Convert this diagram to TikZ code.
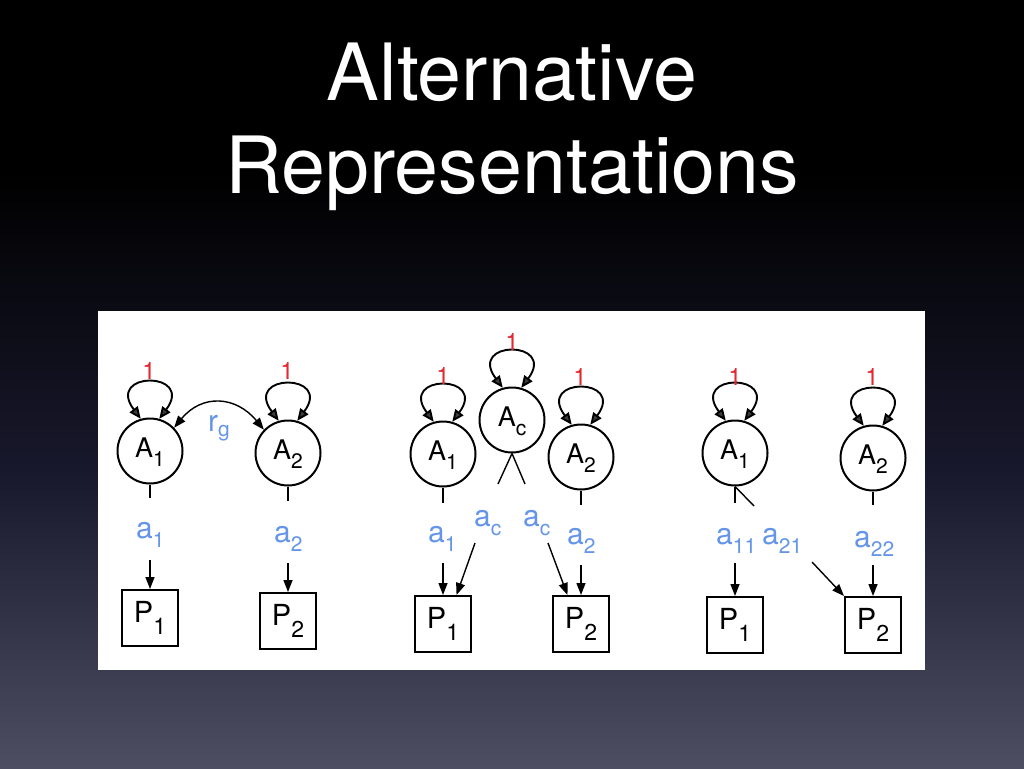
\documentclass[tikz,border=0pt]{standalone}
\usepackage{fontspec}
\setmainfont{TeX Gyre Heros}
\usetikzlibrary{arrows.meta}
\definecolor{lblblue}{RGB}{100,149,232}
\definecolor{lblred}{RGB}{228,40,50}
\definecolor{bgbot}{RGB}{78,78,98}
\definecolor{bgmid}{RGB}{24,24,44}
\definecolor{loophead}{RGB}{60,60,60}
\newcommand\subdrop[3]{\raisebox{-#1}{\fontsize{#2}{#2}\selectfont #3}}
\newcommand\circlab[2]{#1\subdrop{9pt}{21}{#2}}
\newcommand\boxlab[2]{#1\subdrop{12pt}{23}{#2}}
\newcommand\bluelab[2]{#1\subdrop{9pt}{21}{#2}}
\tikzset{
  latent/.style={circle, draw=black, line width=2pt, minimum size=65pt, inner sep=0pt,
    text height=18pt, text depth=5pt, font=\fontsize{27}{27}\selectfont},
  manifest/.style={rectangle, draw=black, line width=2pt, minimum width=56pt, minimum height=56pt,
    inner sep=0pt, text height=20pt, text depth=11pt, font=\fontsize{29}{29}\selectfont},
  varloop/.style={line width=1.9pt, {Triangle[length=12pt,width=10pt,fill=loophead]}-{Triangle[length=12pt,width=10pt,fill=loophead]}},
  dbl/.style={line width=1.4pt, {Triangle[length=12pt,width=9pt]}-{Triangle[length=12pt,width=9pt]}},
  arr/.style={line width=1.4pt, -{Triangle[length=12pt,width=9pt]}},
  stub/.style={line width=1.4pt},
  blab/.style={text=lblblue, inner sep=0pt, anchor=base west, font=\fontsize{30}{30}\selectfont},
  one/.style={text=lblred, inner sep=0pt, font=\fontsize{24}{24}\selectfont},
  titletext/.style={text=white, inner sep=0pt, anchor=base, font=\fontsize{79}{79}\selectfont}
}
\begin{document}
\begin{tikzpicture}[x=1pt,y=-1pt]
\useasboundingbox (0,0) rectangle (1024,768);
\fill[black] (0,0) rectangle (1024,768);
\shade[top color=black, bottom color=bgbot, middle color=bgmid] (0,170) rectangle (1024,768);

\node[titletext] (t1) at (512,100) {Alternative};
\node[titletext] (t2) at (512,193) {Representations};

\fill[white] (98,311) rectangle (925,670);

% ---------- left panel ----------
\node[latent] (LA1) at (150,451) {\circlab{A}{1}};
\node[latent] (LA2) at (288,453) {\circlab{A}{2}};
\node[manifest] (LP1) at (150,618) {\boxlab{P}{1}};
\node[manifest] (LP2) at (288,621) {\boxlab{P}{2}};
\draw[varloop] (LA1.106) .. controls +(-36,-48) and +(36,-48) .. (LA1.74);
\draw[varloop] (LA2.106) .. controls +(-36,-48) and +(36,-48) .. (LA2.74);
\node[one] (LO1) at (149,371) {1};
\node[one] (LO2) at (287,371) {1};
\draw[dbl] (LA1.44) .. controls +(28,-34) and +(-28,-34) .. (LA2.136);
\node[blab] (Lrg) at (208,431) {r\subdrop{5pt}{21}{g}};
\coordinate (LS1) at (150,498);
\coordinate (LS2) at (288,501);
\draw[stub] (LA1.south) -- (LS1);
\draw[stub] (LA2.south) -- (LS2);
\node[blab] (La1) at (136,538) {\bluelab{a}{1}};
\node[blab] (La2) at (274,542) {\bluelab{a}{2}};
\coordinate (LT1) at (150,560);
\coordinate (LT2) at (288,563);
\draw[arr] (LT1) -- (LP1.north);
\draw[arr] (LT2) -- (LP2.north);

% ---------- middle panel ----------
\node[latent] (MA1) at (443,454) {\circlab{A}{1}};
\node[latent] (MAc) at (512,420) {\circlab{A}{c}};
\node[latent] (MA2) at (581,457) {\circlab{A}{2}};
\node[manifest] (MP1) at (443,624) {\boxlab{P}{1}};
\node[manifest] (MP2) at (581,624) {\boxlab{P}{2}};
\draw[varloop] (MA1.106) .. controls +(-36,-48) and +(36,-48) .. (MA1.74);
\draw[varloop] (MAc.106) .. controls +(-36,-48) and +(36,-48) .. (MAc.74);
\draw[varloop] (MA2.106) .. controls +(-36,-48) and +(36,-48) .. (MA2.74);
\node[one] (MO1) at (443,376) {1};
\node[one] (MOc) at (512,342) {1};
\node[one] (MO2) at (580,377) {1};
\coordinate (MV1) at (498,484);
\coordinate (MV2) at (525,484);
\draw[stub] (MAc.south) -- (MV1);
\draw[stub] (MAc.south) -- (MV2);
\coordinate (MS1) at (443,503);
\coordinate (MS2) at (581,505);
\draw[stub] (MA1.south) -- (MS1);
\draw[stub] (MA2.south) -- (MS2);
\node[blab] (Ma1) at (428,542) {\bluelab{a}{1}};
\node[blab] (Mac1) at (474,526) {\bluelab{a}{c}};
\node[blab] (Mac2) at (523,526) {\bluelab{a}{c}};
\node[blab] (Ma2) at (567,544) {\bluelab{a}{2}};
\coordinate (MT1) at (443,563);
\coordinate (MTc1) at (475,543);
\coordinate (MTc2) at (548,543);
\coordinate (MT2) at (581,565);
\draw[arr] (MT1) -- (MP1.north);
\draw[arr] (MTc1) -- (MP1.65);
\draw[arr] (MTc2) -- (MP2.115);
\draw[arr] (MT2) -- (MP2.north);

% ---------- right panel ----------
\node[latent] (RA1) at (735,453) {\circlab{A}{1}};
\node[latent] (RA2) at (873,458) {\circlab{A}{2}};
\node[manifest] (RP1) at (735,625) {\boxlab{P}{1}};
\node[manifest] (RP2) at (873,625) {\boxlab{P}{2}};
\draw[varloop] (RA1.106) .. controls +(-36,-48) and +(36,-48) .. (RA1.74);
\draw[varloop] (RA2.106) .. controls +(-36,-48) and +(36,-48) .. (RA2.74);
\node[one] (RO1) at (735,377) {1};
\node[one] (RO2) at (872,377) {1};
\coordinate (RS1) at (735,503);
\coordinate (RD1) at (754,506);
\coordinate (RS2) at (873,505);
\draw[stub] (RA1.south) -- (RS1);
\draw[stub] (RA1.south) -- (RD1);
\draw[stub] (RA2.south) -- (RS2);
\node[blab] (Ra11) at (716,544) {\bluelab{a}{11}};
\node[blab] (Ra21) at (762,544) {\bluelab{a}{21}};
\node[blab] (Ra22) at (854,547) {\bluelab{a}{22}};
\coordinate (RT1) at (735,563);
\coordinate (RTd) at (812,562);
\coordinate (RT2) at (873,565);
\draw[arr] (RT1) -- (RP1.north);
\draw[arr] (RTd) -- (RP2.north west);
\draw[arr] (RT2) -- (RP2.north);
\end{tikzpicture}
\end{document}
